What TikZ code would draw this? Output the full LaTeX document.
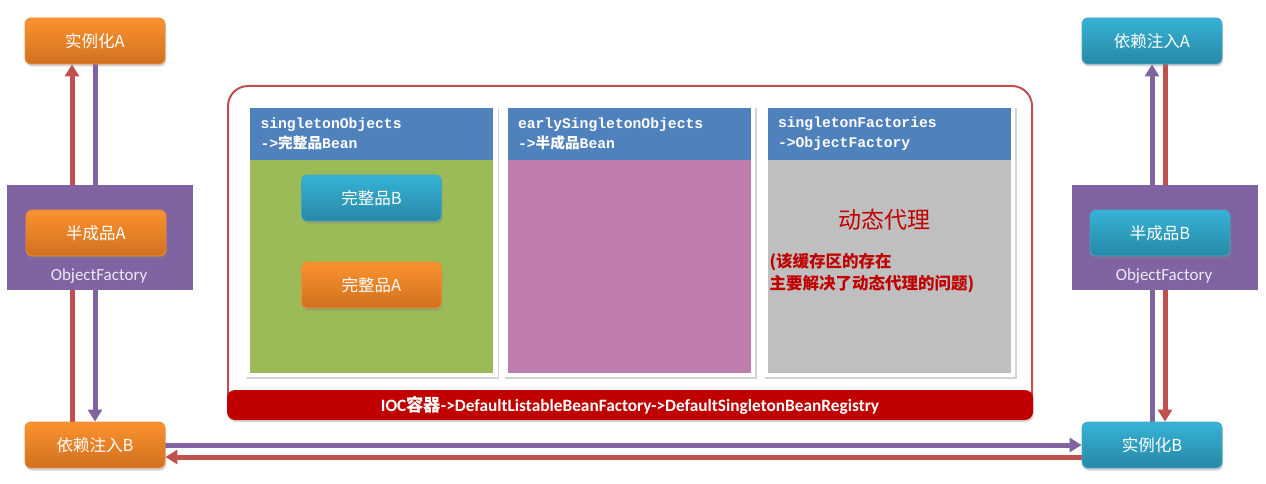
\documentclass[tikz,border=0pt]{standalone}
\usepackage{fontspec}
\setmainfont{Carlito}
\newfontfamily\cjk{Noto Sans CJK SC}
\newfontfamily\hdmono{Liberation Mono}
\usetikzlibrary{arrows.meta,positioning,shadows,backgrounds}
\definecolor{orangetop}{HTML}{FA922F}
\definecolor{orangebot}{HTML}{D2701F}
\definecolor{orangeedge}{HTML}{EE8A3A}
\definecolor{bluetop}{HTML}{36B3D6}
\definecolor{bluebot}{HTML}{2788A6}
\definecolor{blueedge}{HTML}{45A5C4}
\definecolor{factorypurple}{HTML}{8064A2}
\definecolor{arrowred}{HTML}{C0504D}
\definecolor{headblue}{HTML}{4F81BD}
\definecolor{cachegreen}{HTML}{9BBB59}
\definecolor{cachepink}{HTML}{BF7DAE}
\definecolor{cachegray}{HTML}{BFBFBF}
\definecolor{iocred}{HTML}{C00000}
\definecolor{factorytext}{HTML}{EEE8F6}

\tikzset{
  flowbox/.style={rounded corners=6pt,minimum width=140pt,minimum height=46pt,
    text=white,font=\cjk\fontsize{16.5}{18}\selectfont,line width=0.8pt,
    drop shadow={shadow xshift=1pt,shadow yshift=-2.5pt,opacity=0.35}},
  orangebox/.style={flowbox,top color=orangetop,bottom color=orangebot,draw=orangeedge},
  bluebox/.style={flowbox,top color=bluetop,bottom color=bluebot,draw=blueedge},
  factorybox/.style={fill=factorypurple,minimum width=186pt,minimum height=105pt},
  factorylabel/.style={text=factorytext,font=\fontsize{17}{18}\selectfont},
  container/.style={draw=arrowred,line width=2pt,rounded corners=20pt,
    minimum width=804pt,minimum height=332pt},
  iocbar/.style={fill=iocred,rounded corners=8pt,minimum width=806pt,minimum height=30pt,
    text=white,font=\bfseries\fontsize{17.3}{18}\selectfont,
    drop shadow={shadow xshift=1pt,shadow yshift=-2pt,opacity=0.3}},
  panelframe/.style={fill=white,minimum width=252pt,minimum height=271pt,
    drop shadow={shadow xshift=1.5pt,shadow yshift=-2pt,opacity=0.35}},
  headbox/.style={fill=headblue,minimum width=243pt,minimum height=52pt,text width=222pt,
    inner xsep=10.5pt,align=left,text=white,
    font=\hdmono\bfseries\fontsize{14.7}{20}\selectfont},
  cachebody/.style={minimum width=243pt,minimum height=213pt},
  redarrow/.style={draw=arrowred,line width=5pt,-{Triangle[width=14pt,length=12pt]}},
  purplearrow/.style={draw=factorypurple,line width=5pt,-{Triangle[width=14pt,length=12pt]}},
  proxytext/.style={text=iocred,font=\cjk\fontsize{23}{26}\selectfont},
  notetext/.style={text=iocred,align=left,font=\cjk\bfseries\fontsize{16.5}{22}\selectfont}
}

\begin{document}
\begin{tikzpicture}[x=1pt,y=-1pt]
  \useasboundingbox (0,0) rectangle (1266,484);

  % left side: bean A
  \node[orangebox] (instA) at (95,41) {实例化A};
  \node[factorybox] (factA) at (100,237.5) {};
  \node[orangebox] (halfA) at (96,233) {半成品A};
  \node[factorylabel] (factAlabel) at (99,276) {ObjectFactory};
  \node[orangebox] (injB) at (95,445) {依赖注入B};

  % right side: bean B
  \node[bluebox] (injA) at (1152,41) {依赖注入A};
  \node[factorybox] (factB) at (1165,237.5) {};
  \node[bluebox] (halfB) at (1160,233) {半成品B};
  \node[factorylabel] (factBlabel) at (1164,276) {ObjectFactory};
  \node[bluebox] (instB) at (1152,445) {实例化B};

  % IOC container with the three caches
  \node[container] (ioc) at (630,252) {};
  \node[iocbar] (iocbar) at (630,405)
    {IOC{\cjk\bfseries 容器}->DefaultListableBeanFactory->DefaultSingletonBeanRegistry};

  \node[panelframe] (frameS) at (371.5,241.5) {};
  \node[cachebody,fill=cachegreen] (bodyS) at (371.5,266.5) {};
  \node[headbox] (headS) at (371.5,134) {singletonObjects\\->{\cjk 完整品}Bean};
  \node[bluebox] (fullB) at (371.5,198) {完整品B};
  \node[orangebox] (fullA) at (371.5,285) {完整品A};

  \node[panelframe] (frameE) at (629,241.5) {};
  \node[cachebody,fill=cachepink] (bodyE) at (629,266.5) {};
  \node[headbox] (headE) at (629,134) {earlySingletonObjects\\->{\cjk 半成品}Bean};

  \node[panelframe] (frameF) at (889,241.5) {};
  \node[cachebody,fill=cachegray] (bodyF) at (889,266.5) {};
  \node[headbox] (headF) at (889,134) {singletonFactories\\->ObjectFactory};
  \node[proxytext] (proxy) at (884,220) {动态代理};
  \node[notetext,anchor=west] (note) at (766,273)
    {(该缓存区的存在\\主要解决了动态代理的问题)};

  % flow arrows
  \begin{scope}[on background layer]
    \draw[redarrow] ([xshift=-23pt]injB.north) -- ([xshift=-23pt]instA.south);
    \draw[purplearrow] (instA.south) -- (injB.north);
    \draw[purplearrow] (injB.east) -- (instB.west);
    \draw[redarrow] ([yshift=-12pt]instB.west) -- ([yshift=-12pt]injB.east);
    \draw[purplearrow] (instB.north) -- (injA.south);
    \draw[redarrow] ([xshift=13pt]injA.south) -- ([xshift=13pt]instB.north);
  \end{scope}
\end{tikzpicture}
\end{document}
